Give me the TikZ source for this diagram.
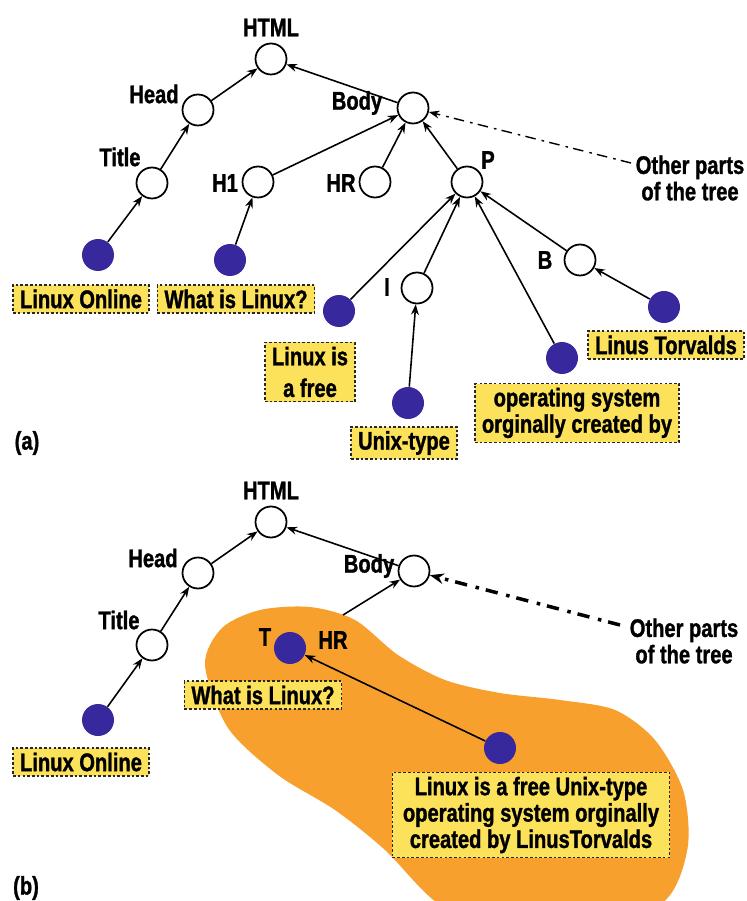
\documentclass[tikz,border=0pt]{standalone}
\usepackage{fontspec}
\setmainfont{Liberation Sans}[FakeStretch=0.79,FakeBold=1.2]
\usetikzlibrary{positioning,arrows.meta}
\definecolor{leafblue}{RGB}{56,40,158}
\definecolor{boxyellow}{RGB}{252,226,90}
\definecolor{blobfill}{RGB}{247,160,45}
\tikzset{%
  elem/.style={circle,draw,line width=1pt,fill=white,minimum size=6.2mm,inner sep=0pt},
  leaf/.style={circle,fill=leafblue,minimum size=6.4mm,inner sep=0pt},
  txt/.style={draw=black!85,fill=boxyellow,line width=.9pt,dash pattern=on 1.5pt off 1.2pt,
    inner xsep=4pt,inner ysep=2.5pt,align=center},
  tag/.style={inner sep=0pt},
  up/.style={-{Stealth[length=6pt,width=4.5pt]},line width=.9pt},
  others/.style={-{Stealth[length=6pt,width=4.5pt]},line width=.8pt,
    dash pattern=on 6pt off 3pt on 1.5pt off 3.5pt},
  othersb/.style={-{Stealth[length=8pt,width=6pt]},line width=2pt,
    dash pattern=on 7pt off 4pt on 2pt off 5pt}
}

\begin{document}
\begin{tikzpicture}[x=0.02cm,y=-0.02cm,font=\fontsize{14.5}{15}\selectfont\bfseries]
  \useasboundingbox (0,0) rectangle (746,901);

  % (a) the whole tree
  \node [elem] (html) at (271,59) {};
  \node [elem] (head) at (198,110) {};
  \node [elem] (title) at (152,183) {};
  \node [elem] (body) at (413,108) {};
  \node [elem] (hone) at (258,182) {};
  \node [elem] (hr) at (375,182) {};
  \node [elem] (p) at (467,182) {};
  \node [elem] (ni) at (417,288) {};
  \node [elem] (nb) at (580,260) {};

  \node [tag,above=1.2mm of html] (thtml) {HTML};
  \node [tag] (thead) at (154,94) {Head};
  \node [tag] (ttitle) at (120,157) {Title};
  \node [tag] (tbody) at (357,103) {Body};
  \node [tag] (thone) at (225,183) {H1};
  \node [tag] (thr) at (341,183) {HR};
  \node [tag] (tp) at (488,160) {P};
  \node [tag] (ti) at (387,287) {I};
  \node [tag] (tb) at (545,260) {B};

  \node [leaf] (lonline) at (98,255) {};
  \node [leaf] (lwhat) at (230,260) {};
  \node [leaf] (lfree) at (339,311) {};
  \node [leaf] (lunix) at (408,403) {};
  \node [leaf] (los) at (562,358) {};
  \node [leaf] (ltorv) at (664,307) {};

  \node [txt] (bonline) at (81,299) {Linux Online};
  \node [txt] (bwhat) at (236,299) {What is Linux?};
  \node [txt,font=\fontsize{14.5}{18}\selectfont\bfseries] (bfree) at (310,372) {Linux is\\a free};
  \node [txt] (bunix) at (404,443) {Unix-type};
  \node [txt] (bos) at (577,413) {operating system\\orginally created by};
  \node [txt] (btorv) at (666,345) {Linus Torvalds};

  \draw [up] (head) -- (html);
  \draw [up] (title) -- (head);
  \draw [up] (lonline) -- (title);
  \draw [up] (body) -- (html);
  \draw [up] (hone) -- (body);
  \draw [up] (lwhat) -- (hone);
  \draw [up] (hr) -- (body);
  \draw [up] (p) -- (body);
  \draw [up] (lfree) -- (p);
  \draw [up] (ni) -- (p);
  \draw [up] (lunix) -- (ni);
  \draw [up] (los) -- (p);
  \draw [up] (nb) -- (p);
  \draw [up] (ltorv) -- (nb);

  \node [tag,align=center] (other) at (690,178) {Other parts\\of the tree};
  \coordinate (otherend) at (631,163);
  \draw [others] (otherend) -- (body);

  \node [tag] (capa) at (27,443) {(a)};

  % (b) the tree once the text is merged
  \begin{scope}
    \clip (0,0) rectangle (746,901);
    \fill [blobfill] plot [smooth cycle] coordinates {(205,665) (222,628) (260,610) (310,607)
      (355,620) (398,655) (445,680) (500,693) (560,700) (615,710) (655,740) (683,790)
      (688,845) (670,895) (620,930) (520,940) (440,905) (385,850) (335,810) (278,775)
      (228,728)};
  \end{scope}

  \node [elem] (html2) at (271,522) {};
  \node [elem] (head2) at (198,573) {};
  \node [elem] (title2) at (152,645) {};
  \node [elem] (body2) at (414,571) {};

  \node [tag,above=1.2mm of html2] (thtml2) {HTML};
  \node [tag] (thead2) at (153,558) {Head};
  \node [tag] (ttitle2) at (119,620) {Title};
  \node [tag] (tbody2) at (369,566) {Body};
  \node [tag] (tt2) at (265,637) {T};
  \node [tag] (thr2) at (333,640) {HR};

  \node [leaf] (lonline2) at (98,720) {};
  \node [leaf] (lwhat2) at (290,648) {};
  \node [leaf] (lall2) at (500,748) {};

  \node [txt] (bonline2) at (81,762) {Linux Online};
  \node [txt] (bwhat2) at (263,695) {What is Linux?};
  \node [txt,inner xsep=6pt] (ball2) at (531,815)
    {Linux is a free Unix-type\\operating system orginally\\created by LinusTorvalds};

  \coordinate (hrstub) at (343,615);
  \draw [up] (head2) -- (html2);
  \draw [up] (title2) -- (head2);
  \draw [up] (lonline2) -- (title2);
  \draw [up] (body2) -- (html2);
  \draw [up] (hrstub) -- (body2);
  \draw [up] (lall2) -- (lwhat2);

  \node [tag,align=center] (other2) at (684,641) {Other parts\\of the tree};
  \coordinate (otherend2) at (620,625);
  \draw [othersb] (otherend2) -- (body2);

  \node [tag] (capb) at (26,888) {(b)};
\end{tikzpicture}
\end{document}
